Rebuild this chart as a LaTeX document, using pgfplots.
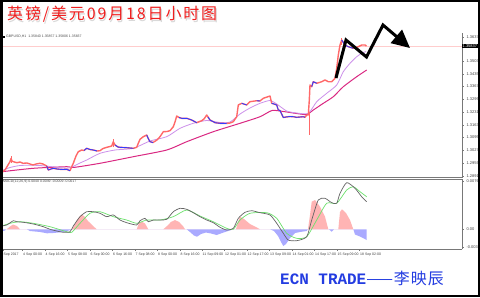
\documentclass[border=0pt]{standalone}
\usepackage{fontspec}
\setmainfont{Liberation Sans}
\newfontfamily\cjk{Noto Sans CJK SC}
\newfontfamily\mono{Liberation Mono}
\usepackage{pgfplots}
\pgfplotsset{compat=1.18}
\usetikzlibrary{arrows.meta}
\definecolor{candleup}{RGB}{255,105,105}
\definecolor{candledn}{RGB}{50,60,255}
\definecolor{fastma}{RGB}{205,145,235}
\definecolor{slowma}{RGB}{218,40,130}
\definecolor{macdline}{RGB}{100,100,100}
\definecolor{sigline}{RGB}{110,225,110}
\definecolor{histup}{RGB}{255,180,180}
\definecolor{histdn}{RGB}{170,170,255}
\definecolor{framegray}{RGB}{120,120,120}
\definecolor{titlered}{RGB}{240,30,30}
\definecolor{wmblue}{RGB}{35,60,225}
\definecolor{priceline}{RGB}{255,205,205}
\begin{document}
\begin{tikzpicture}[x=1bp,y=1bp]
\useasboundingbox (0,0) rectangle (480,297);
\fill[white] (0,0) rectangle (480,297);
% ---------------- price pane ----------------
\begin{axis}[
  at={(2bp,119.5bp)}, anchor=south west, scale only axis,
  width=460bp, height=144.5bp,
  xmin=2, xmax=462, ymin=1.28814, ymax=1.36525,
  axis line style={draw=none},
  xtick=\empty, scaled y ticks=false,
  ytick={1.28910,1.29590,1.30270,1.30950,1.31630,1.32310,1.32990,1.33670,1.34350,1.35030,1.36327},
  yticklabels={1.28910,1.29590,1.30270,1.30950,1.31630,1.32310,1.32990,1.33670,1.34350,1.35030,1.36374},
  ytick pos=right, yticklabel pos=right,
  tick align=outside, major tick length=1.5bp,
  tick style={framegray, line width=0.4bp},
  yticklabel style={font=\fontsize{4}{4}\selectfont, text=black!75, xshift=-0.5bp},
  clip=false,
  unbounded coords=jump,
]
\draw[priceline, line width=0.6bp] (axis cs:2,1.35837) -- (axis cs:462,1.35837);
% slow MA
\addplot[slowma, line width=1bp, smooth, tension=0.4] coordinates {
(2,1.29123) (33.3,1.29305) (66.7,1.29390) (73.3,1.29348) (100,1.29572) (133.3,1.29924)
(166.7,1.30281) (186.7,1.30724) (213.3,1.31258) (240,1.31706) (260,1.32058) (272,1.32389)
(283.3,1.32336) (296.7,1.32229) (306.7,1.32176) (313.3,1.32416) (323.3,1.32773)
(333.3,1.33125) (343.3,1.33659) (356.7,1.34193) (366.7,1.34550)};
% fast MA
\addplot[fastma, line width=0.8bp, smooth, tension=0.4] coordinates {
(2,1.29188) (10,1.29348) (20,1.29454) (30,1.29465) (40,1.29454) (55,1.29374) (66.7,1.29305)
(72,1.29374) (80,1.29588) (86.7,1.29748) (100,1.30105) (115,1.30281) (133.3,1.30372)
(150,1.30762) (166.7,1.30991) (180,1.31439) (193.3,1.31706) (206.7,1.31856) (220,1.31749)
(230,1.31775) (240,1.32202) (250,1.32523) (260,1.32773) (270,1.32923) (276.7,1.32736)
(286.7,1.32362) (296.7,1.32256) (308.3,1.32240) (316.7,1.32859) (326.7,1.33307)
(336.7,1.33750) (343.3,1.34459) (350,1.34908) (356.7,1.35260) (361.7,1.35441) (366,1.35537)};
% wicks
\addplot[candleup, line width=0.8bp] coordinates {
(11,1.29588) (11,1.29935) (11,nan) (113.3,1.30441) (113.3,1.30868) (113.3,nan)
(309,1.31082) (309,1.32325) (309,nan) (341.7,1.35902) (341.7,1.36258)};
% price (up candles)
\addplot[candleup, line width=1.4bp, line join=round] coordinates {
(2,1.29107) (5,1.29214) (8,1.29481) (10,1.29657) (11,1.29828) (12,1.29694) (13.3,1.29657)
(17,1.29604) (20,1.29641) (23,1.29572) (27,1.29588) (30,1.29534) (33,1.29481) (36,1.29534)
(40,1.29572) (43,1.29534) (46.7,1.29428) (48.3,1.29214) (51,1.29268) (53.3,1.29305)
(57,1.29268) (60,1.29252) (63,1.29241) (66.7,1.29252) (70,1.29177) (71.7,1.29390)
(73.3,1.29572) (76,1.29961) (78.3,1.30191) (81.7,1.30281) (84,1.30255) (86.7,1.30372)
(90,1.30308) (93.3,1.30281) (97,1.30228) (100,1.30244) (103,1.30361) (106.7,1.30425)
(110,1.30468) (111.7,1.30495) (113.3,1.30724) (115,1.30548) (118,1.30441) (120,1.30425)
(126.7,1.30404) (130,1.30388) (133.3,1.30372) (136.7,1.30425) (138,1.30602) (140,1.30852)
(143.3,1.30991) (146.7,1.31082) (148,1.30922) (150,1.30724) (153,1.30682) (157,1.30815)
(160,1.30991) (163.3,1.31258) (167,1.31269) (170,1.31311) (173.3,1.31525) (175,1.31775)
(176.7,1.32096) (179,1.32016) (181.7,1.31973) (186.7,1.31973) (191.7,1.31882) (196.7,1.31738)
(201.7,1.31845) (204,1.31936) (206.7,1.32149) (208,1.32042) (210,1.31882) (213.3,1.31791)
(215,1.31738) (220,1.31706) (226.7,1.31695) (230,1.31722) (233.3,1.31791) (236.7,1.32058)
(238.3,1.32683) (241.7,1.32773) (246.7,1.32683) (250,1.32859) (256.7,1.32912) (260,1.32896)
(263.3,1.33040) (267,1.33109) (270,1.33163) (271.7,1.32773) (274,1.32736) (276.7,1.32683)
(278.3,1.32416) (280,1.32389) (283.3,1.32016) (286,1.32042) (290,1.32069) (293.3,1.32058)
(296.7,1.32026) (300,1.32042) (303.3,1.32058) (305,1.32026) (306.7,1.32149) (308.3,1.32149)
(309.3,1.32949) (310,1.33750) (311.7,1.33659) (313.3,1.33926) (316.7,1.33841) (321.7,1.33926)
(325,1.34017) (328.3,1.33926) (331.7,1.33926) (335,1.34107) (336.7,1.34641) (338.3,1.35351)
(340,1.35884) (341.7,1.36151) (345,1.35884) (348.3,1.35793) (353.3,1.35708) (358.3,1.35793)
(361.7,1.35884) (365,1.35884) (366.5,1.35831)};
% price (down candles)
\addplot[candledn, line width=0.9bp, line join=round] coordinates {
(46.7,1.29428) (48.3,1.29214) (51,1.29268) (53.3,1.29305) (57,1.29268) (60,1.29252)
(63,1.29241) (66.7,1.29252) (70,1.29177) (70,nan)
(84,1.30255) (86.7,1.30372) (90,1.30308) (93.3,1.30281) (97,1.30228) (97,nan)
(115,1.30548) (118,1.30441) (120,1.30425) (126.7,1.30404) (130,1.30388) (133.3,1.30372) (133.3,nan)
(146.7,1.31082) (148,1.30922) (150,1.30724) (153,1.30682) (153,nan)
(179,1.32016) (181.7,1.31973) (186.7,1.31973) (191.7,1.31882) (196.7,1.31738) (196.7,nan)
(208,1.32042) (210,1.31882) (213.3,1.31791) (215,1.31738) (220,1.31706) (226.7,1.31695) (226.7,nan)
(241.7,1.32773) (246.7,1.32683) (246.7,nan)
(256.7,1.32912) (260,1.32896) (260,nan)
(271.7,1.32773) (274,1.32736) (276.7,1.32683) (278.3,1.32416) (280,1.32389) (283.3,1.32016)
(286,1.32042) (290,1.32069) (293.3,1.32058) (296.7,1.32026) (300,1.32042) (303.3,1.32058) (305,1.32026) (305,nan)
(311.7,1.33659) (313.3,1.33926) (316.7,1.33841) (316.7,nan)
(341.7,1.36151) (345,1.35884) (348.3,1.35793) (353.3,1.35708)};
% hand-drawn zigzag arrow
\addplot[black, line width=3bp, line join=miter, -{Triangle[length=18bp,width=17bp]}] coordinates {
(336,1.34123) (346,1.36151) (366.5,1.35244) (383,1.36951) (410,1.35724)};
\draw[framegray, line width=1.4bp] (rel axis cs:0,0) -- (rel axis cs:1,0);
\draw[framegray, line width=0.6bp] (rel axis cs:1,0) -- (rel axis cs:1,1);
\node[anchor=west, fill=black, text=white, inner sep=0.5bp, font=\fontsize{4}{4}\selectfont]
  at (axis cs:462,1.35837) {1.35837};
\end{axis}
% ---------------- MACD pane ----------------
\begin{axis}[
  at={(2bp,48bp)}, anchor=south west, scale only axis,
  width=460bp, height=70bp,
  xmin=2, xmax=462, ymin=-0.00301, ymax=0.00769,
  axis line style={draw=none}, scaled y ticks=false,
  xtick={3,22.5,45,67.5,90,112.5,135,157.5,180,202,224.5,247,269.5,292,314.5,337,359.5},
  xticklabels={Sep 2017,4 Sep 00:00,4 Sep 16:00,5 Sep 08:00,6 Sep 00:00,6 Sep 16:00,7 Sep 08:00,8 Sep 00:00,8 Sep 16:00,11 Sep 09:00,12 Sep 01:00,12 Sep 17:00,13 Sep 09:00,14 Sep 01:00,14 Sep 17:00,15 Sep 09:00,18 Sep 02:00},
  xtick pos=bottom,
  xticklabel style={anchor=north west, font=\fontsize{3.5}{3.5}\selectfont, text=black!75, inner xsep=0.5bp, yshift=0.5bp},
  ytick={-0.00266,0,0.00743},
  yticklabels={-0.0031,0.00,0.0076},
  ytick pos=right, yticklabel pos=right,
  tick align=outside, major tick length=1.5bp,
  tick style={framegray, line width=0.4bp},
  yticklabel style={font=\fontsize{4}{4}\selectfont, text=black!75, xshift=-0.5bp},
  clip=false,
]
\addplot[fill=histup, draw=none] coordinates {
(6.7,0) (10,0.00043) (13,0.00073) (17,0.00050) (20,0) (71.7,0) (74,0.00050) (77,0.00142)
(80,0.00203) (82,0.00226) (85,0.00188) (88,0.00127) (92,0.00066) (96.7,0) (136.7,0)
(139,0.00096) (142,0.00116) (145,0.00089) (148.3,0) (163.3,0) (167,0.00050) (171,0.00112)
(175,0.00142) (179,0.00112) (183,0.00050) (185,0) (236,0) (238,0.00112) (240,0.00193)
(244,0.00157) (250,0.00081) (256,0.00035) (260,0) (308,0) (310,0.00219) (311.7,0.00422)
(315,0.00448) (320,0.00346) (325,0.00193) (328.3,0) (338.3,0) (340,0.00265) (342,0.00306)
(346,0.00249) (350,0.00142) (353.3,0)} \closedcycle;
\addplot[fill=histdn, draw=none] coordinates {
(2,0) (2.5,-0.00026) (5,-0.00020) (6,0) (26.7,0) (30,-0.00026) (40,-0.00041) (47,-0.00061)
(53,-0.00057) (60,-0.00046) (66,-0.00034) (71.7,0) (186.7,0) (190,-0.00041) (194,-0.00095)
(197,-0.00113) (201,-0.00072) (206,-0.00049) (211,-0.00064) (216.7,-0.00087) (222,-0.00057)
(228,-0.00026) (233.3,0) (270,0) (274,-0.00026) (278,-0.00102) (281,-0.00194)
(283.3,-0.00255) (286,-0.00225) (290,-0.00133) (295,-0.00057) (300,-0.00041)
(306.7,-0.00026) (308,0) (329,0) (331.7,-0.00037) (334,0) (353.3,0) (355,-0.00080)
(360,-0.00110) (364,-0.00141) (366.7,-0.00164) (366.7,0)} \closedcycle;
% signal line
\addplot[sigline, line width=0.7bp, smooth, tension=0.4] coordinates {
(1.7,0.00050) (10,0.00092) (20,0.00116) (33.3,0.00092) (50,0.00040) (66.7,-0.00037)
(71.7,-0.00046) (80,0.00092) (90,0.00245) (100,0.00269) (113.3,0.00193) (126.7,0.00142)
(136.7,0.00092) (146.7,0.00142) (160,0.00142) (173.3,0.00193) (186.7,0.00295) (200,0.00203)
(213.3,0.00116) (226.7,0.00015) (233.3,0) (240,0.00142) (250,0.00245) (266.7,0.00254)
(276.7,0.00168) (286.7,-0.00061) (296.7,-0.00138) (306.7,-0.00113) (316.7,0.00142)
(326.7,0.00398) (336.7,0.00398) (346.7,0.00601) (353.3,0.00651) (360,0.00575) (366.7,0.00498)};
% MACD line
\addplot[macdline, line width=0.7bp, smooth, tension=0.4] coordinates {
(1.7,0.00050) (6.7,0.00066) (13.3,0.00131) (16.7,0.00116) (23.3,0.00107) (33.3,0.00081)
(43.3,0.00040) (50,0) (56.7,-0.00026) (63.3,-0.00046) (70,-0.00037) (73.3,0.00050)
(80,0.00193) (86.7,0.00269) (93.3,0.00269) (100,0.00245) (106.7,0.00193) (113.3,0.00219)
(120,0.00142) (126.7,0.00101) (136.7,0.00066) (140,0.00131) (145,0.00168) (148.3,0.00116)
(153.3,0.00142) (160,0.00142) (166.7,0.00153) (173.3,0.00269) (180,0.00321) (186.7,0.00306)
(193.3,0.00254) (200,0.00193) (206.7,0.00142) (213.3,0.00101) (220,0.00031) (226.7,-0.00011)
(233.3,0.00015) (238.3,0.00168) (245,0.00260) (251.7,0.00284) (260,0.00254) (270,0.00219)
(276.7,0.00092) (283.3,-0.00061) (288.3,-0.00164) (296.7,-0.00174) (306.7,-0.00113)
(311.7,0.00142) (318.3,0.00448) (325,0.00474) (331.7,0.00407) (336.7,0.00398) (340,0.00550)
(346.7,0.00713) (355,0.00627) (361.7,0.00498) (366.7,0.00422)};
\draw[framegray, line width=0.6bp] (rel axis cs:0,1) -- (rel axis cs:1,1);
\draw[framegray, line width=1bp] (rel axis cs:0,0) -- (rel axis cs:1,0);
\draw[framegray, line width=0.6bp] (rel axis cs:1,0) -- (rel axis cs:1,1);
\end{axis}
% ---------------- texts ----------------
\fill[black] (2.5,259.5) rectangle (4.5,261.5);
\node[anchor=west, inner sep=0pt, font=\fontsize{3.5}{3.5}\selectfont, text=black!70] at (6,260.5)
  {GBPUSD,H1 \ 1.35840 1.35857 1.35806 1.35837};
\node[anchor=west, inner sep=0pt, font=\fontsize{3.5}{3.5}\selectfont, text=black!70] at (3,115)
  {MACD(12,26,9) 0.0040 0.0049 -0.0009 -0.0017};
\node[anchor=base west, inner sep=0pt, text=black!15] at (8.2,276)
  {\cjk\addfontfeature{LetterSpace=12}\fontsize{16}{16}\selectfont 英镑/美元09月18日小时图};
\node[anchor=base west, inner sep=0pt, text=titlered] at (7,277.2)
  {\cjk\addfontfeature{LetterSpace=12}\fontsize{16}{16}\selectfont 英镑/美元09月18日小时图};
\node[anchor=base west, inner sep=0pt, text=wmblue] at (280,12.7)
  {\mono\bfseries\fontsize{16}{16}\selectfont ECN TRADE\mdseries\cjk\addfontfeature{LetterSpace=6} ——李映辰};
\draw[black, line width=2.5bp] (1.25,1.25) rectangle (478.75,295.75);
\end{tikzpicture}
\end{document}
